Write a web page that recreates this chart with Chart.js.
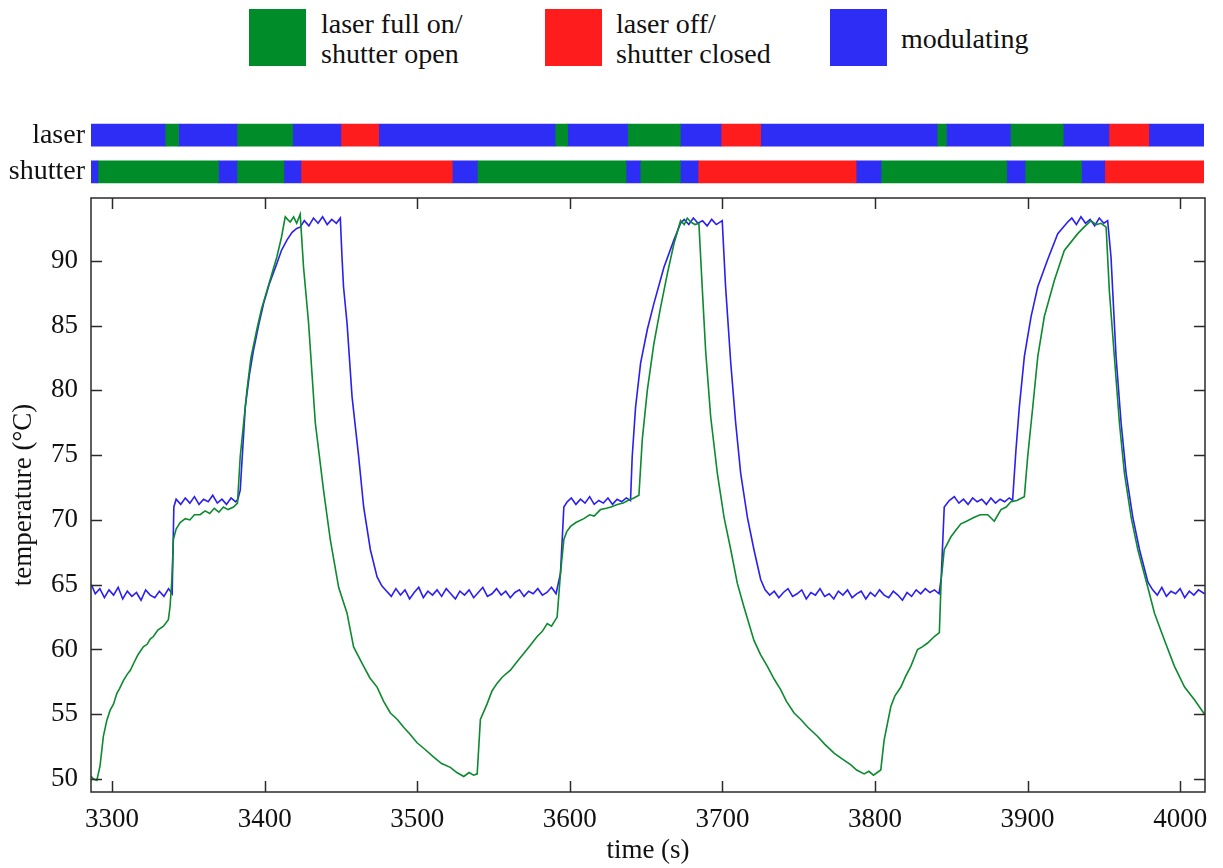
<!DOCTYPE html>
<html>
<head>
<meta charset="utf-8">
<script src="https://cdn.jsdelivr.net/npm/chart.js@4.4.1/dist/chart.umd.min.js"></script>
<style>
html,body{margin:0;padding:0;background:#fff;}
body{width:1223px;height:868px;position:relative;overflow:hidden;font-family:"Liberation Serif","DejaVu Serif",serif;color:#111;}
#main{position:absolute;left:0;top:0;z-index:1;}
#status{position:absolute;left:0;top:94px;z-index:2;}
.lg-box{position:absolute;width:57px;height:57px;top:9px;}
.lg-text{position:absolute;font-size:28px;line-height:30px;white-space:nowrap;}
</style>
</head>
<body>
<div class="lg-box" style="left:249px;background:#008C28"></div>
<div class="lg-text" style="left:321px;top:9px">laser full on/<br>shutter open</div>
<div class="lg-box" style="left:545px;background:#FF1C1C"></div>
<div class="lg-text" style="left:616px;top:9px">laser off/<br>shutter closed</div>
<div class="lg-box" style="left:830px;background:#2D2DF6"></div>
<div class="lg-text" style="left:901px;top:24px">modulating</div>
<canvas id="main" width="1223" height="868"></canvas>
<canvas id="status" width="1223" height="119"></canvas>
<script>
// ---------- data ----------
const xMin = 3286.2, xMax = 4016.3;
const yMin = 49.0, yMax = 94.85;
const xTickStep = 100, yTickStep = 5;
const rowLabels = ['laser', 'shutter'];
const stateColors = {on: '#008C28', off: '#FF1C1C', mod: '#2D2DF6'};

const laserEdges = [3286.2, 3334.8, 3343.6, 3381.9, 3418.5, 3450.1, 3474.9, 3590.6, 3598.9, 3638.2, 3672.8, 3699.5, 3725.5, 3841.2, 3847.3, 3889.3, 3924.0, 3953.9, 3980.1, 4016.3];
const laserStates = ['mod','on','mod','on','mod','off','mod','on','mod','on','mod','off','mod','on','mod','on','mod','off','mod'];
const shutterEdges = [3286.2, 3290.7, 3369.8, 3381.9, 3412.7, 3423.9, 3523.2, 3539.6, 3637.2, 3646.4, 3672.8, 3684.4, 3788.1, 3804.4, 3886.9, 3898.9, 3935.9, 3951.2, 4016.3];
const shutterStates = ['mod','on','mod','on','mod','off','mod','on','mod','on','mod','off','mod','on','mod','on','mod','off'];

const blueTime = [
 3286.5,3289,3292,3295,3298,3301,3304,3307,3310,3313,3316,3319,3322,3325,3328,3331,3334,3337,3339.4,
 3340.5,3342,3345,3348,3351,3354,3357,3360,3363,3366,3369,3372,3375,3378,3381,3382.5,
 3384,3387.3,3390,3392.7,3396,3399.3,3403,3408,3411,3414.6,3418,3421,3423.3,
 3426,3429,3432,3435,3438,3441,3444,3447,3449.6,
 3450.7,3451.7,3454,3457.3,3461.6,3464.9,3469.3,3473.7,3476.9,
 3480,3483,3486,3489,3492,3495,3498,3501,3504,3507,3510,3513,3516,3519,3522,3525,3528,3531,3534,3537,3540,3543,3546,3549,3552,3555,3558,3561,3564,3567,3570,3573,3576,3579,3582,3585,3588,3591,
 3593.9,3596.1,3598.3,3601,3604,3607,3610,3613,3616,3619,3622,3625,3628,3631,3634,3637,3639.8,
 3640.9,3643.1,3646.4,3650.8,3655.1,3661.7,3668.2,3672.6,
 3675,3678,3681,3684,3687,3690,3693,3696,3699.9,
 3702.1,3705.5,3708.7,3712,3716.4,3720.7,3725.1,
 3728,3731,3734,3737,3740,3743,3746,3749,3752,3755,3758,3761,3764,3767,3770,3773,3776,3779,3782,3785,3788,3791,3794,3797,3800,3803,3806,3809,3812,3815,3818,3821,3824,3827,3830,3833,3836,3839,3842,
 3843.4,3845.4,3848.7,3852,3855,3858,3861,3864,3867,3870,3873,3876,3879,3882,3885,3888,3890.2,
 3892.4,3894.6,3897.9,3902.3,3906.7,3913.2,3919.8,3926.3,
 3929,3932,3935,3938,3941,3944,3947,3950,3952.5,
 3954.7,3955.8,3958,3961.3,3964.6,3969,3973.4,3978.9,
 3982,3985,3988,3991,3994,3997,4000,4003,4006,4009,4012,4016
];
const blueTemp = [
 65.0,64.3,64.7,64.0,64.6,64.2,64.8,63.9,64.5,64.1,64.4,63.8,64.6,64.2,64.0,64.5,64.1,64.7,64.3,
 71.0,71.6,71.2,71.7,71.3,71.8,71.2,71.6,71.4,71.9,71.3,71.6,71.2,71.7,71.4,71.6,
 72.3,78.7,81.2,83.1,85.0,86.7,88.2,89.8,90.8,91.6,92.2,92.5,92.6,
 93.1,92.7,93.3,92.9,93.4,92.8,93.2,92.9,93.3,
 90.3,88.0,85.2,79.5,74.9,71.0,67.7,65.6,64.9,
 64.5,64.1,64.7,64.2,64.6,63.9,64.4,64.8,64.0,64.5,64.2,64.6,64.1,64.7,64.3,63.9,64.5,64.2,64.6,64.0,64.4,64.8,64.1,64.3,64.7,64.2,64.5,64.0,64.4,64.6,64.1,64.5,64.3,64.7,64.2,64.4,64.8,64.3,
 65.9,71.0,71.4,71.7,71.2,71.6,71.3,71.8,71.2,71.5,71.3,71.7,71.2,71.6,71.4,71.7,71.5,
 74.9,78.7,82.1,84.7,86.7,89.5,91.6,92.9,
 93.2,92.8,93.3,92.9,93.1,92.7,93.2,92.8,93.1,
 88.0,82.1,77.5,73.6,70.2,67.7,65.4,
 64.6,64.2,64.5,64.0,64.4,64.7,64.1,64.3,64.6,63.9,64.4,64.2,64.7,64.1,64.3,63.9,64.5,64.2,64.6,64.0,64.3,64.5,63.9,64.4,64.1,64.6,64.2,64.0,64.5,64.2,63.8,64.4,64.1,64.6,64.3,64.7,64.4,64.6,64.3,
 65.5,71.0,71.5,71.8,71.3,71.6,71.2,71.7,71.4,71.6,71.2,71.7,71.3,71.6,71.4,71.7,71.5,
 75.4,78.7,82.6,85.7,88.0,90.1,92.1,93.0,
 93.3,92.8,93.4,92.9,93.2,92.7,93.3,92.9,93.1,
 90.3,87.7,82.6,77.5,73.6,70.2,67.7,65.2,
 64.6,64.2,64.8,64.1,64.5,64.3,64.7,64.0,64.5,64.2,64.6,64.3
];

const greenTime = [
 3286.2,3288,3290,3292.1,3294.3,3296.5,3298.7,3301,3303.1,3305,3307.4,3310,3312,3314,3317,3320.5,3323,3325,3327.1,3330,3333.7,3336.9,3338,3339.2,3340.2,3342,3344.6,3348,3351,3354,3357.7,3361,3364,3367,3370,3373,3376,3379.6,3382.2,
 3384,3388.4,3391,3394.9,3398,3401.5,3405,3408,3411,3413.5,3415,3416.8,3419,3421,3423.3,
 3425.5,3428.8,3433.2,3438.6,3443,3448.5,3454,3458.3,3464.9,3469,3473.7,3478,3482.4,3487,3491.1,3495,3499.9,3505,3510.8,3516,3521.7,3526,3530.5,3534,3537,3539.3,
 3541.4,3545.8,3549,3552.4,3556,3561.1,3565,3569.8,3574,3578.6,3582,3585.2,3588,3591.7,3593.9,3596.1,3598,3600.5,3604,3609.2,3613,3616,3620.1,3624,3627,3631.1,3635,3638,3642,3645.3,
 3647.5,3650.8,3655.1,3659.5,3663.9,3668.2,3672.6,3675,3677,3679.2,3682,3684.6,
 3686.9,3689,3692.3,3696.7,3701.1,3705.5,3709.8,3714.1,3720.7,3725,3729.5,3734,3738.2,3742,3747,3751.4,3756,3762.3,3767,3773.2,3778,3784.2,3788,3792.9,3796,3799,3803.8,
 3806,3810.4,3813,3817,3820,3823.5,3827.9,3831,3834.5,3838.9,3842.2,3843.4,3844.3,3845.4,3849.8,3853,3856.3,3860,3865.1,3869,3873.9,3878.2,3882.6,3886,3889.1,3893,3897.9,
 3900.1,3903.4,3906.7,3911,3917.6,3924.1,3932.9,3937,3941.6,3945,3948.2,3951.5,3953.6,3956.9,3960.2,3963.5,3967.9,3972.3,3978.8,3983.2,3989.8,3996.3,4002.9,4009.5,4016
];
const greenTemp = [
 50.2,50.0,49.9,51.0,53.3,54.5,55.3,55.8,56.6,57.0,57.6,58.1,58.4,58.9,59.6,60.2,60.4,60.8,61.0,61.5,61.8,62.3,63.3,65.4,68.5,69.3,69.8,70.1,70.0,70.4,70.4,70.7,70.5,70.9,70.6,71.0,70.8,71.0,71.3,
 74.9,80.0,82.5,84.7,86.3,87.7,89.1,90.3,91.8,93.4,93.2,93.0,93.4,92.9,93.6,
 89.5,85.2,77.5,72.3,68.5,64.8,62.8,60.2,58.7,57.8,57.1,56.0,55.1,54.6,54.0,53.5,52.8,52.3,51.7,51.2,50.9,50.5,50.2,50.5,50.3,50.4,
 54.6,55.8,56.8,57.4,57.9,58.4,59.0,59.7,60.3,61.0,61.4,62.0,61.8,62.5,65.9,68.5,69.1,69.5,69.8,70.1,70.4,70.3,70.8,70.9,71.0,71.2,71.3,71.5,71.7,71.9,
 76.2,80.0,83.6,86.4,89.0,91.3,93.1,92.8,93.3,93.0,92.8,92.9,
 87.7,83.1,78.0,73.6,70.2,67.7,65.1,63.3,60.7,59.6,58.7,57.7,56.9,56.0,55.1,54.6,54.0,53.3,52.7,52.0,51.6,51.1,50.7,50.4,50.6,50.3,50.7,
 53.0,55.6,56.4,57.1,57.9,58.7,60.0,60.2,60.5,61.0,61.3,65.4,66.4,67.7,68.7,69.2,69.7,69.9,70.2,70.4,70.4,69.9,70.8,71.0,71.4,71.5,71.8,
 74.9,78.7,82.6,85.7,88.5,90.8,92.1,92.6,93.1,92.8,92.9,92.6,87.7,82.6,77.5,73.6,70.2,67.7,64.8,62.8,60.7,58.7,57.1,56.1,55.0
];

// ---------- rendering ----------
const SERIF = '"Liberation Serif", "DejaVu Serif", serif';
const INK = '#111';

const frameTicks = {
  id: 'frameTicks',
  afterDatasetsDraw(chart) {
    const {ctx, chartArea: a, scales: {x, y}} = chart;
    ctx.save();
    ctx.strokeStyle = '#2a2a2a';
    ctx.lineWidth = 1.5;
    ctx.strokeRect(a.left, a.top, a.right - a.left, a.bottom - a.top);
    ctx.beginPath();
    x.ticks.forEach(t => {
      const p = Math.round(x.getPixelForValue(t.value)) + 0.5;
      ctx.moveTo(p, a.bottom); ctx.lineTo(p, a.bottom - 11);
      ctx.moveTo(p, a.top); ctx.lineTo(p, a.top + 11);
    });
    y.ticks.forEach(t => {
      const p = Math.round(y.getPixelForValue(t.value)) + 0.5;
      ctx.moveTo(a.left, p); ctx.lineTo(a.left + 11, p);
      ctx.moveTo(a.right, p); ctx.lineTo(a.right - 11, p);
    });
    ctx.stroke();
    ctx.restore();
  }
};

const toPoints = (ts, vs) => ts.map((t, i) => ({x: t, y: vs[i]}));

new Chart(document.getElementById('main'), {
  type: 'line',
  data: {
    datasets: [
      {label: 'green', data: toPoints(greenTime, greenTemp), borderColor: '#0B8A2E', borderWidth: 1.6, pointRadius: 0, tension: 0, fill: false},
      {label: 'blue', data: toPoints(blueTime, blueTemp), borderColor: '#2A1EF2', borderWidth: 1.6, pointRadius: 0, tension: 0, fill: false}
    ]
  },
  options: {
    responsive: false,
    animation: false,
    layout: {padding: {top: 198, right: 18, left: 0, bottom: 0}},
    plugins: {legend: {display: false}, tooltip: {enabled: false}},
    scales: {
      x: {
        type: 'linear', min: xMin, max: xMax,
        grid: {display: false, drawTicks: false},
        border: {display: false},
        ticks: {stepSize: xTickStep, includeBounds: false, maxRotation: 0, padding: 12,
                font: {family: SERIF, size: 27}, color: INK, callback: v => String(v)},
        title: {display: true, text: 'time (s)', color: INK, font: {family: SERIF, size: 27}, padding: {top: 0, bottom: 1}},
        afterFit(s) { s.height = 76; }
      },
      y: {
        type: 'linear', min: yMin, max: yMax,
        grid: {display: false, drawTicks: false},
        border: {display: false},
        ticks: {stepSize: yTickStep, includeBounds: false, padding: 13,
                font: {family: SERIF, size: 27}, color: INK, callback: v => String(v)},
        title: {display: true, text: 'temperature (°C)', color: INK, font: {family: SERIF, size: 27}, padding: {top: 8, bottom: 0}},
        afterFit(s) { s.width = 91; }
      }
    }
  },
  plugins: [frameTicks]
});

// status bars
function rowDatasets(edges, states, row) {
  const out = [];
  for (let i = 0; i < states.length; i++) {
    const seg = [edges[i], edges[i + 1]];
    out.push({
      data: row === 0 ? [seg, null] : [null, seg],
      backgroundColor: stateColors[states[i]],
      borderWidth: 0,
      barThickness: 22,
      grouped: false
    });
  }
  return out;
}

new Chart(document.getElementById('status'), {
  type: 'bar',
  data: {
    labels: rowLabels,
    datasets: rowDatasets(laserEdges, laserStates, 0).concat(rowDatasets(shutterEdges, shutterStates, 1))
  },
  options: {
    indexAxis: 'y',
    responsive: false,
    animation: false,
    layout: {padding: {top: 0, bottom: 0, right: 19, left: 0}},
    plugins: {legend: {display: false}, tooltip: {enabled: false}},
    scales: {
      x: {type: 'linear', min: xMin, max: xMax, display: false},
      y: {
        type: 'category',
        grid: {display: false, drawTicks: false},
        border: {display: false},
        ticks: {padding: 6, font: {family: SERIF, size: 28}, color: INK},
        afterFit(s) { s.width = 91; }
      }
    }
  }
});
</script>
</body>
</html>
